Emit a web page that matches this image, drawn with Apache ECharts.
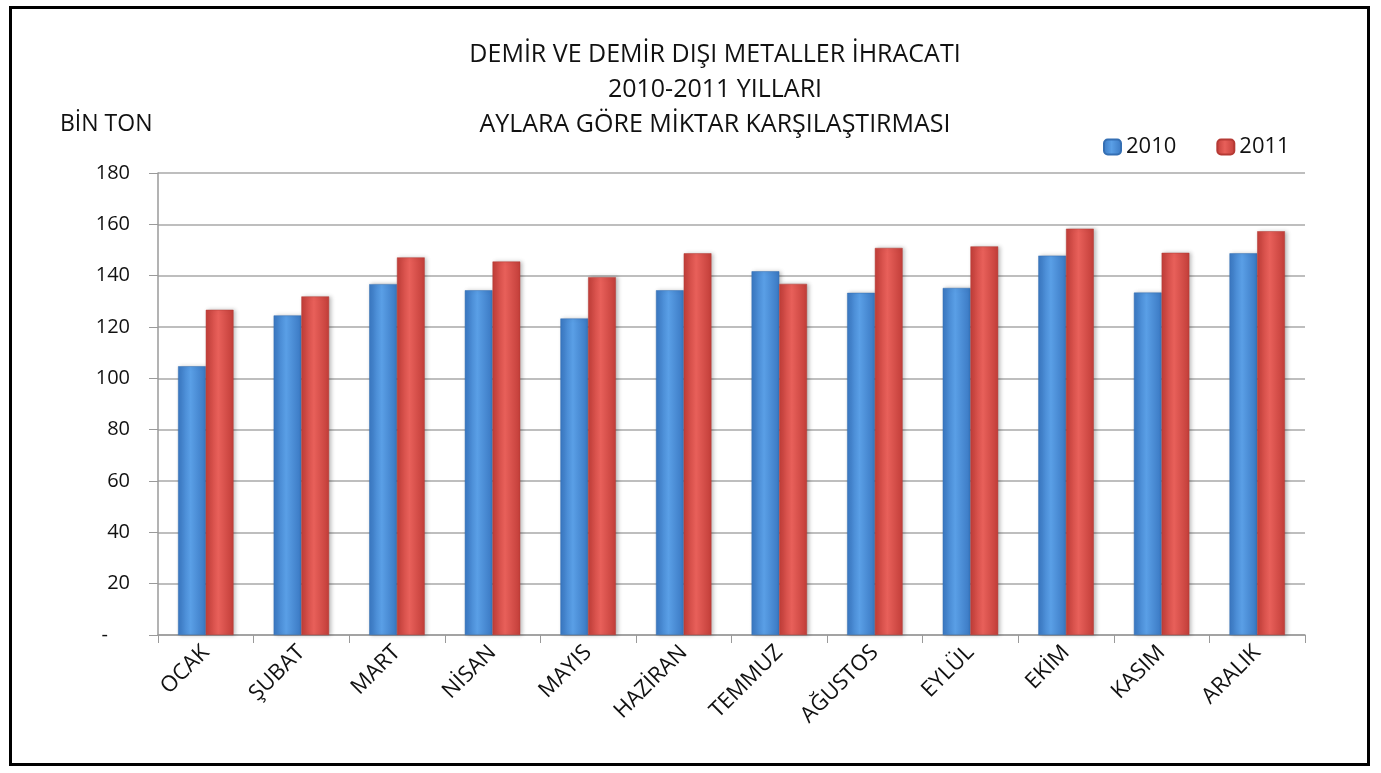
<!DOCTYPE html>
<html>
<head>
<meta charset="utf-8">
<script src="https://cdn.jsdelivr.net/npm/echarts@6/dist/echarts.min.js"></script>
<style>
html, body { margin: 0; padding: 0; background: #fff; }
#main { width: 1381px; height: 773px; }
</style>
</head>
<body>
<div id="main"></div>
<script>
// aylar
var months = ['OCAK', 'ŞUBAT', 'MART', 'NİSAN', 'MAYIS', 'HAZİRAN', 'TEMMUZ', 'AĞUSTOS', 'EYLÜL', 'EKİM', 'KASIM', 'ARALIK'];
// bin ton
var y2010 = [104.7, 124.5, 136.7, 134.3, 123.3, 134.3, 141.7, 133.3, 135.2, 147.8, 133.4, 148.7];
var y2011 = [126.7, 131.9, 147.1, 145.5, 139.4, 148.7, 136.8, 150.8, 151.4, 158.3, 148.9, 157.3];
var yTicks = [0, 20, 40, 60, 80, 100, 120, 140, 160, 180];

var font = '"Open Sans", sans-serif';

function barColor(dark, light) {
    return new echarts.graphic.LinearGradient(0, 0, 1, 0, [
        { offset: 0, color: dark },
        { offset: 0.45, color: light },
        { offset: 1, color: dark }
    ]);
}

var myChart = echarts.init(document.getElementById('main'));

var option = {
    backgroundColor: '#fff',
    animation: false,
    title: {
        text: 'DEMİR VE DEMİR DIŞI METALLER İHRACATI\n2010-2011 YILLARI\nAYLARA GÖRE MİKTAR KARŞILAŞTIRMASI',
        left: 710,
        top: 32,
        textAlign: 'center',
        textStyle: {
            fontFamily: font,
            fontSize: 25,
            fontWeight: 'normal',
            color: '#111',
            lineHeight: 35
        }
    },
    legend: {
        left: 1098,
        top: 131,
        itemWidth: 17,
        itemHeight: 15,
        itemGap: 40,
        textStyle: { fontFamily: font, fontSize: 22, color: '#111' },
        data: ['2010', '2011']
    },
    grid: {
        left: 158,
        right: 76,
        top: 173,
        bottom: 138
    },
    xAxis: {
        type: 'category',
        data: months,
        axisLine: { lineStyle: { color: '#9a9a9a', width: 1.5 } },
        axisTick: { show: true, length: 8, lineStyle: { color: '#9a9a9a' } },
        axisLabel: {
            rotate: 45,
            margin: 14,
            fontFamily: font,
            fontSize: 22,
            color: '#111'
        }
    },
    yAxis: {
        type: 'value',
        min: yTicks[0],
        max: yTicks[yTicks.length - 1],
        interval: 20,
        name: 'BİN TON',
        nameLocation: 'end',
        nameGap: 37,
        nameTextStyle: { fontFamily: font, fontSize: 23, color: '#111', align: 'left', padding: [0, 0, 0, -98] },
        axisLine: { show: true, lineStyle: { color: '#9a9a9a', width: 1.5 } },
        axisTick: { show: true, inside: false, length: 9, lineStyle: { color: '#9a9a9a' } },
        axisLabel: {
            margin: 28,
            align: 'right',
            fontFamily: font,
            fontSize: 20,
            color: '#111',
            formatter: function (v) { return v === 0 ? '{dash|-}' : v; },
            rich: {
                dash: { fontFamily: font, fontSize: 20, color: '#111', padding: [0, 22, 0, 0] }
            }
        },
        splitLine: { lineStyle: { color: '#a8a8a8', width: 1.5 } }
    },
    series: [
        {
            name: '2010',
            type: 'bar',
            data: y2010,
            barGap: '0%',
            barCategoryGap: '42%',
            itemStyle: {
                color: barColor('#3a78c2', '#5a9fe6'),
                borderColor: '#356fb3',
                borderWidth: 0.5,
                shadowColor: 'rgba(0,0,0,0.25)',
                shadowBlur: 4,
                shadowOffsetX: 2
            }
        },
        {
            name: '2011',
            type: 'bar',
            data: y2011,
            itemStyle: {
                color: barColor('#c23e39', '#e8605a'),
                borderColor: '#b53a35',
                borderWidth: 0.5,
                shadowColor: 'rgba(0,0,0,0.25)',
                shadowBlur: 4,
                shadowOffsetX: 2
            }
        }
    ],
    graphic: [
        {
            type: 'rect',
            left: 8,
            top: 5,
            shape: { width: 1358, height: 757 },
            style: { fill: 'none', stroke: '#000', lineWidth: 3 },
            silent: true
        }
    ]
};

myChart.setOption(option);
</script>
</body>
</html>
